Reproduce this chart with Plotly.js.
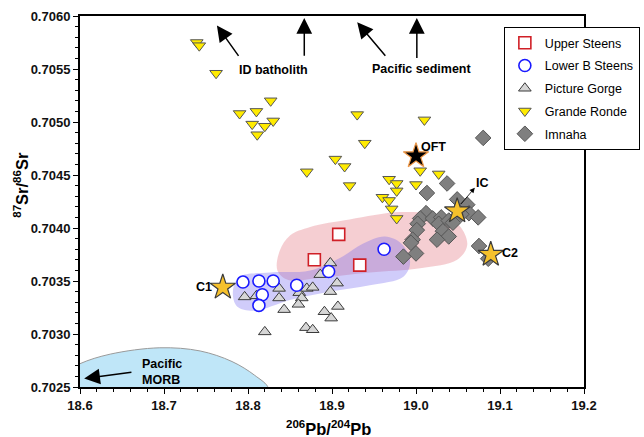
<!DOCTYPE html>
<html>
<head>
<meta charset="utf-8">
<script src="https://cdn.plot.ly/plotly-3.0.1.min.js"></script>
<style>
  html, body { margin: 0; padding: 0; background: #fff; }
  #chart { width: 644px; height: 437px; }
</style>
</head>
<body>
<div id="chart"></div>
<script>
// ---- Basalt groups: 206Pb/204Pb (x) vs 87Sr/86Sr (y) ----
const upperSteensX = [18.879, 18.908, 18.933];
const upperSteensY = [0.70370, 0.70394, 0.70365];

const lowerSteensX = [18.794, 18.813, 18.830, 18.858, 18.817, 18.813, 18.896, 18.962];
const lowerSteensY = [0.70349, 0.70350, 0.70350, 0.70346, 0.70337, 0.70327, 0.70359, 0.70380];

const pictureGorgeX = [18.796, 18.810, 18.837, 18.837, 18.861, 18.864, 18.860, 18.870, 18.877, 18.886,
                       18.898, 18.906, 18.898, 18.843, 18.891, 18.907, 18.899, 18.869, 18.877, 18.820];
const pictureGorgeY = [0.70335, 0.70336, 0.70343, 0.70334, 0.70339, 0.70334, 0.70328, 0.70343, 0.70344, 0.70356,
                       0.70367, 0.70348, 0.70340, 0.70323, 0.70321, 0.70326, 0.70315, 0.70306, 0.70304, 0.70302];

const grandeRondeX = [18.739, 18.742, 18.762, 18.790, 18.810, 18.827, 18.805, 18.820, 18.830, 18.811,
                      18.930, 19.010, 18.939, 18.904, 18.915, 18.870, 18.921, 19.005, 19.027, 18.968,
                      18.977, 19.000, 18.977, 18.960, 18.968, 18.971, 18.977];
const grandeRondeY = [0.70575, 0.70572, 0.70546, 0.70508, 0.70510, 0.70520, 0.70498, 0.70496, 0.70501, 0.70488,
                      0.70507, 0.70502, 0.70480, 0.70465, 0.70458, 0.70453, 0.70440, 0.70454, 0.70451, 0.70446,
                      0.70442, 0.70441, 0.70435, 0.70429, 0.70426, 0.70418, 0.70409];

const imnahaX = [19.080, 19.037, 19.013, 19.049, 19.061, 19.012, 19.005, 19.002, 19.001, 18.996,
                 18.994, 19.000, 18.985, 19.020, 19.030, 19.027, 19.039, 19.044, 19.032, 19.039,
                 19.025, 19.063, 19.074, 19.075, 19.086, 19.054];
const imnahaY = [0.70485, 0.70442, 0.70433, 0.70427, 0.70422, 0.70414, 0.70409, 0.70404, 0.70398, 0.70389,
                 0.70386, 0.70376, 0.70373, 0.70409, 0.70410, 0.70404, 0.70407, 0.70405, 0.70397, 0.70392,
                 0.70389, 0.70414, 0.70410, 0.70383, 0.70371, 0.70413];

// ---- Reference compositions (stars) ----
const starNames = ['C1', 'OFT', 'IC', 'C2'];
const starX = [18.770, 19.000, 19.049, 19.089];
const starY = [0.70344, 0.70468, 0.70416, 0.70375];

// ---- Compositional fields (closed outlines) ----
const upperFieldX = [18.835, 18.838, 18.850, 18.874, 18.921, 18.981, 19.029, 19.052, 19.061, 19.049, 19.005, 18.945, 18.886, 18.848, 18.835];
const upperFieldY = [0.70360, 0.70379, 0.70393, 0.70401, 0.70408, 0.70415, 0.70412, 0.70402, 0.70384, 0.70370, 0.70362, 0.70358, 0.70353, 0.70351, 0.70360];

const lowerFieldX = [18.782, 18.790, 18.826, 18.874, 18.910, 18.936, 18.963, 18.983, 18.993, 18.985, 18.945, 18.898, 18.850, 18.808, 18.787, 18.782];
const lowerFieldY = [0.70340, 0.70354, 0.70358, 0.70360, 0.70372, 0.70385, 0.70392, 0.70385, 0.70368, 0.70354, 0.70346, 0.70340, 0.70332, 0.70322, 0.70326, 0.70340];

const morbFieldX = [18.576, 18.600, 18.636, 18.695, 18.743, 18.781, 18.808, 18.824, 18.817, 18.743, 18.624, 18.576, 18.576];
const morbFieldY = [0.70261, 0.70272, 0.70281, 0.70287, 0.70284, 0.70274, 0.70261, 0.70249, 0.70238, 0.70233, 0.70233, 0.70238, 0.70261];

// ---- Axis ticks ----
const xTicks = [18.6, 18.7, 18.8, 18.9, 19.0, 19.1, 19.2];
const xTickText = ['18.6', '18.7', '18.8', '18.9', '19.0', '19.1', '19.2'];
const yTicks = [0.7025, 0.7030, 0.7035, 0.7040, 0.7045, 0.7050, 0.7055, 0.7060];
const yTickText = ['0.7025', '0.7030', '0.7035', '0.7040', '0.7045', '0.7050', '0.7055', '0.7060'];

const FONT = 'Liberation Sans, Arial, Helvetica, sans-serif';

function field(x, y, fill, line) {
  return {
    x: x, y: y, type: 'scatter', mode: 'lines', fill: 'toself',
    fillcolor: fill, line: { color: line, width: line === 'rgba(0,0,0,0)' ? 0 : 1, shape: 'spline', smoothing: 1 },
    hoverinfo: 'skip', showlegend: false
  };
}

const traces = [
  field(morbFieldX, morbFieldY, '#bfe6f8', '#9a9a9a'),
  field(upperFieldX, upperFieldY, 'rgba(226,120,130,0.36)', 'rgba(0,0,0,0)'),
  field(lowerFieldX, lowerFieldY, 'rgba(110,95,240,0.32)', 'rgba(0,0,0,0)'),
  {
    name: 'Picture Gorge', x: pictureGorgeX, y: pictureGorgeY, type: 'scatter', mode: 'markers',
    legendrank: 3, legendgroup: 'g3',
    marker: { symbol: 'triangle-up', size: 11, color: '#d6d6d6', line: { color: '#3a3a3a', width: 1 } }
  },
  {
    name: 'Grande Ronde', x: grandeRondeX, y: grandeRondeY, type: 'scatter', mode: 'markers',
    legendrank: 4, legendgroup: 'g4',
    marker: { symbol: 'triangle-down', size: 11, color: '#ffeb00', line: { color: '#555555', width: 1 } }
  },
  {
    name: 'Imnaha', x: imnahaX, y: imnahaY, type: 'scatter', mode: 'markers',
    legendrank: 5, legendgroup: 'g5',
    marker: { symbol: 'diamond', size: 12, color: '#7f7f7f', line: { color: '#555555', width: 1 } }
  },
  {
    name: 'Upper Steens', x: upperSteensX, y: upperSteensY, type: 'scatter', mode: 'markers',
    legendrank: 1, legendgroup: 'g1',
    marker: { symbol: 'square', size: 12, color: '#ffffff', line: { color: '#d01f26', width: 1.6 } }
  },
  {
    name: 'Lower B Steens', x: lowerSteensX, y: lowerSteensY, type: 'scatter', mode: 'markers',
    legendrank: 2, legendgroup: 'g2',
    marker: { symbol: 'circle', size: 12, color: '#ffffff', line: { color: '#1a1aff', width: 1.6 } }
  },
  {
    x: starX, y: starY, type: 'scatter', mode: 'markers', showlegend: false, hoverinfo: 'skip',
    marker: {
      symbol: 'star', size: 19,
      color: starNames.map(n => n === 'OFT' ? '#000000' : '#f6c12c'),
      line: { color: starNames.map(n => n === 'OFT' ? '#f09a4a' : '#3a3a3a'), width: 1.2 }
    }
  }
];

// label offsets (pixels) for each star
const starLabelStyle = {
  C1:  { xshift: -19, yshift: 0 },
  OFT: { xshift: 17, yshift: 9 },
  IC:  { xshift: 25, yshift: 28 },
  C2:  { xshift: 19, yshift: 2 }
};

const boldText = { family: FONT, size: 12.5, color: '#000', weight: 'bold' };

const annotations = [];
starNames.forEach((n, i) => {
  annotations.push({
    x: starX[i], y: starY[i], xref: 'x', yref: 'y', text: n, showarrow: false,
    xshift: starLabelStyle[n].xshift, yshift: starLabelStyle[n].yshift, font: boldText
  });
});

// arrow helper: head at (x,y), tail at (ax,ay), in data units
function arrow(x, y, ax, ay, w, size) {
  return {
    x: x, y: y, ax: ax, ay: ay, xref: 'x', yref: 'y', axref: 'x', ayref: 'y',
    text: '', showarrow: true, arrowhead: 2, arrowsize: size, arrowwidth: w, arrowcolor: '#000'
  };
}

annotations.push(
  arrow(18.763, 0.70591, 18.790, 0.70561, 1.5, 2.1),
  arrow(18.867, 0.70598, 18.867, 0.70561, 1.5, 2.1),
  arrow(18.930, 0.70594, 18.965, 0.70561, 1.5, 2.1),
  arrow(19.001, 0.70598, 19.001, 0.70559, 1.5, 2.1),
  arrow(18.605, 0.70258, 18.663, 0.70264, 1.5, 2.1),
  arrow(19.070, 0.70438, 19.052, 0.70421, 0.8, 1.3),
  { x: 18.830, y: 0.70549, xref: 'x', yref: 'y', text: 'ID batholith', showarrow: false, font: boldText },
  { x: 19.006, y: 0.70550, xref: 'x', yref: 'y', text: 'Pacific sediment', showarrow: false, font: boldText },
  { x: 18.671, y: 0.70264, xref: 'x', yref: 'y', text: 'Pacific<br>MORB', showarrow: false,
    xanchor: 'left', align: 'left', font: boldText },
  // axis titles
  { x: -0.141, y: 0.545, xref: 'paper', yref: 'paper', textangle: -90, showarrow: false,
    text: '<sup>87</sup>Sr/<sup>86</sup>Sr', font: { family: FONT, size: 16.5, color: '#000', weight: 'bold' } },
  { x: 0.494, y: -0.142, xref: 'paper', yref: 'paper', showarrow: false,
    text: '<sup>206</sup>Pb/<sup>204</sup>Pb', font: { family: FONT, size: 16.5, color: '#000', weight: 'bold' } }
);

const axisCommon = {
  ticks: 'outside', ticklen: 5, tickwidth: 1, tickcolor: '#000',
  showline: true, linewidth: 2, linecolor: '#000', mirror: true,
  showgrid: false, zeroline: false, automargin: false,
  tickfont: { family: FONT, size: 13, color: '#111', weight: 'bold' }
};

const layout = {
  width: 644, height: 437,
  margin: { l: 80, r: 60, t: 16, b: 50, autoexpand: false },
  paper_bgcolor: '#fff', plot_bgcolor: '#fff',
  showlegend: true,
  xaxis: Object.assign({}, axisCommon, {
    range: [18.6, 19.2], tickvals: xTicks, ticktext: xTickText,
    minor: { dtick: 0.02, tick0: 18.6, ticks: 'outside', ticklen: 3, tickcolor: '#000', showgrid: false }
  }),
  yaxis: Object.assign({}, axisCommon, {
    range: [0.7025, 0.7060], tickvals: yTicks, ticktext: yTickText,
    minor: { dtick: 0.0001, tick0: 0.7025, ticks: 'outside', ticklen: 3, tickcolor: '#000', showgrid: false }
  }),
  legend: {
    x: 0.841, y: 0.970, xanchor: 'left', yanchor: 'top',
    bgcolor: '#fff', bordercolor: '#000', borderwidth: 1,
    font: { family: FONT, size: 12.5, color: '#000' },
    traceorder: 'grouped', tracegroupgap: 3.5
  },
  annotations: annotations
};

Plotly.newPlot('chart', traces, layout, { displayModeBar: false, staticPlot: true });
</script>
</body>
</html>
